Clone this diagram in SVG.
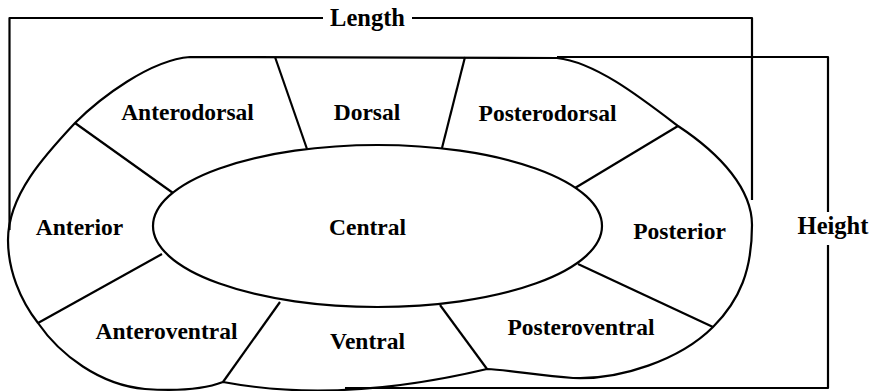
<svg xmlns="http://www.w3.org/2000/svg" width="871" height="391" viewBox="0 0 871 391">
<style>
.ln{fill:none;stroke:#000;stroke-width:2.2;stroke-linejoin:round;stroke-linecap:butt}
.lb{font-family:"Liberation Serif","Times New Roman",serif;font-weight:bold;font-size:23.5px;fill:#000;text-anchor:middle}
.dim{font-family:"Liberation Serif","Times New Roman",serif;font-weight:bold;font-size:24.5px;fill:#000;text-anchor:middle}
</style>
<rect width="871" height="391" fill="#fff"/>
<g id="outline">
<path class="ln" d="M190,57 L557,58 C595,62 640,97 678,126 C722,155 752,190 752,225 C752,270 740,300 713,327 C680,360 620,380 573,378 C540,376 510,370 487,369 Q340,404 223,382 C205,389 175,391 145,389 C100,385 60,355 38,323 C20,300 8,270 8,240 C8,195 45,155 75,123 C100,98 150,60 190,57 Z"/>
</g>
<g id="connectors">
<line class="ln" x1="275" y1="57" x2="307" y2="149"/>
<line class="ln" x1="465" y1="57" x2="442" y2="148"/>
<line class="ln" x1="75" y1="123" x2="173" y2="193"/>
<line class="ln" x1="678" y1="126" x2="575" y2="188"/>
<line class="ln" x1="38" y1="323" x2="162" y2="254"/>
<line class="ln" x1="223" y1="382" x2="280" y2="302"/>
<line class="ln" x1="487" y1="369" x2="440" y2="305"/>
<line class="ln" x1="713" y1="327" x2="578" y2="264"/>
</g>
<g id="length">
<path class="ln" d="M9.5,230 L9.5,18 L323,18 M412,18 L752,18 L752,200"/>
<text class="dim" x="367.5" y="26">Length</text>
</g>
<g id="height">
<path class="ln" d="M557,57 L828,57 L828,212 M828,245 L828,388 L345,388"/>
<text class="dim" x="833" y="234">Height</text>
</g>
<g id="central">
<ellipse class="ln" cx="377.5" cy="226" rx="224.5" ry="81"/>
<text class="lb" x="367.5" y="235">Central</text>
</g>
<g id="anterodorsal"><text class="lb" x="187.5" y="120">Anterodorsal</text></g>
<g id="dorsal"><text class="lb" x="367" y="120">Dorsal</text></g>
<g id="posterodorsal"><text class="lb" x="547.5" y="121">Posterodorsal</text></g>
<g id="anterior"><text class="lb" x="79.5" y="235">Anterior</text></g>
<g id="posterior"><text class="lb" x="679.5" y="239">Posterior</text></g>
<g id="anteroventral"><text class="lb" x="166.5" y="339">Anteroventral</text></g>
<g id="ventral"><text class="lb" x="367.5" y="349">Ventral</text></g>
<g id="posteroventral"><text class="lb" x="581" y="335">Posteroventral</text></g>
</svg>
